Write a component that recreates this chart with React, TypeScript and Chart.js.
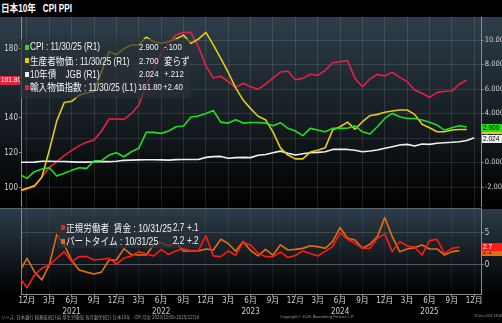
import React, { useEffect, useRef } from 'react';
import { Chart, registerables } from 'chart.js';

Chart.register(...registerables);

// month index: 0 = Dec 2020, first data point = Nov 2020
const FIRST_MONTH = -1;
const X_MIN = -0.8;
const X_MAX = 61.0;

// upper panel (monthly, Nov 2020 .. Nov 2025)
const cpi = [-0.97, -1.29, -0.75, -0.53, -0.42, -1.1, -0.88, -0.64, -0.42, -0.48, 0.15, 0.15, 0.61, 0.8, 0.47, 0.88, 1.16, 2.46, 2.46, 2.38, 2.57, 2.92, 2.98, 3.72, 3.8, 4.01, 4.25, 3.3, 3.22, 3.5, 3.22, 3.27, 3.27, 3.22, 3.0, 3.25, 2.79, 2.57, 2.2, 2.79, 2.65, 2.51, 2.79, 2.79, 2.8, 3.0, 2.51, 2.33, 2.92, 3.6, 4.01, 3.74, 3.6, 3.6, 3.47, 3.28, 3.06, 2.65, 2.84, 3.0, 2.9];
const ppi = [-2.3, -2.1, -1.9, -1.2, 1.0, 3.4, 4.9, 5.0, 5.5, 5.7, 5.8, 7.4, 9.05, 8.8, 9.3, 9.6, 9.6, 10.24, 9.86, 9.73, 9.86, 10.08, 10.4, 9.73, 10.08, 10.63, 9.6, 8.5, 7.35, 6.1, 5.1, 4.4, 3.78, 3.5, 2.5, 1.2, 0.61, 0.3, 0.3, 0.85, 1.0, 1.2, 2.65, 2.92, 3.3, 2.73, 3.33, 3.82, 3.93, 4.1, 4.2, 4.29, 4.29, 3.93, 3.12, 2.84, 2.51, 2.51, 2.65, 2.7, 2.7];
const jgb10y = [0.02, 0.02, 0.03, 0.1, 0.1, 0.08, 0.08, 0.05, 0.03, 0.03, 0.07, 0.08, 0.07, 0.1, 0.18, 0.2, 0.22, 0.23, 0.23, 0.22, 0.2, 0.24, 0.25, 0.25, 0.25, 0.42, 0.48, 0.5, 0.35, 0.4, 0.42, 0.4, 0.6, 0.66, 0.8, 0.93, 0.75, 0.61, 0.72, 0.8, 0.83, 0.88, 1.07, 1.07, 1.07, 1.0, 0.88, 0.94, 1.02, 1.16, 1.29, 1.43, 1.48, 1.35, 1.51, 1.48, 1.57, 1.62, 1.65, 1.7, 1.8, 2.024];
const importPrice = [97.6, 99.1, 100.5, 106.2, 111.4, 114.9, 118.3, 121.4, 124.1, 126.0, 127.3, 132.5, 139.4, 139.4, 139.2, 142.5, 147.5, 159.0, 167.6, 177.2, 183.0, 187.8, 189.3, 189.1, 181.0, 170.0, 163.0, 164.0, 161.0, 157.5, 160.0, 158.0, 156.5, 159.5, 163.0, 166.5, 167.0, 162.0, 162.8, 165.2, 164.5, 167.3, 171.8, 172.4, 173.0, 162.8, 158.0, 162.4, 165.1, 164.2, 166.3, 163.4, 160.9, 156.1, 154.2, 151.9, 154.6, 155.4, 155.5, 159.4, 161.8];

// lower panel (monthly, Nov 2020 .. Oct 2025)
const regularWage = [-1.9, -3.49, -1.54, -0.51, 0.0, 1.03, 2.05, 0.51, 1.28, 1.28, 0.77, 0.87, 1.03, 0.15, 1.03, 1.38, 2.05, 1.69, 1.38, 2.41, 1.6, 2.2, 2.5, 2.2, 2.2, 4.5, 1.4, 1.28, 2.15, 1.5, 3.5, 3.08, 1.8, 1.28, 1.28, 2.0, 1.15, 1.45, 2.15, 1.77, 1.38, 2.1, 2.82, 4.92, 3.95, 3.33, 2.56, 2.56, 4.1, 4.77, 2.05, 3.59, 2.92, 2.72, 1.54, 3.74, 3.95, 1.79, 2.56, 2.72];
const partTimeWage = [-1.03, 1.0, -1.03, -2.3, 0.0, 4.67, 3.08, 0.7, -0.77, -1.1, -1.38, -1.1, 0.77, 0.77, 2.5, 1.6, 1.54, 1.54, 3.1, 3.45, 2.95, 3.45, 2.1, 2.2, 2.15, 2.45, 2.3, 3.95, 3.3, 2.1, 3.59, 2.2, 1.4, 2.4, 1.5, 3.1, 2.3, 2.4, 2.55, 2.95, 2.82, 2.56, 3.59, 5.74, 4.1, 3.85, 2.56, 3.18, 4.36, 7.28, 4.36, 2.05, 2.46, 2.67, 3.08, 2.46, 2.46, 1.54, 2.05, 2.2];

// ticks
const monthTickLabels = ['12月', '3月', '6月', '9月', '12月', '3月', '6月', '9月', '12月', '3月', '6月', '9月', '12月', '3月', '6月', '9月', '12月', '3月', '6月', '9月', '12月'];
const yearTickLabels = ['', '', '2021', '', '', '', '2022', '', '', '', '2023', '', '', '', '2024', '', '', '', '2025', '', ''];
const leftTicks = [100, 120, 140, 160, 180];
const rightTicks = [-2, 0, 2, 4, 6, 8, 10];
const lowerTicks = [0, 5];

const NARROW = '"Liberation Sans Narrow", "DejaVu Sans Condensed", "Noto Sans CJK JP", sans-serif';
const LAT = '"Liberation Sans", Arial, "Noto Sans CJK JP", sans-serif';
const CJK = '"Noto Sans CJK JP", sans-serif';
const SQ = 0.82; // horizontal squeeze to mimic the narrow terminal font
const axisGray = '#8c8c8c';
const labelColor = '#d2d2d2';
const gridColor = 'rgba(255,255,255,0.11)';

const C_CPI = '#22dd22';
const C_PPI = '#e2cb16';
const C_JGB = '#efefef';
const C_IMP = '#e3223f';
const C_REG = '#ff1a1a';
const C_PART = '#e0700f';

const pts = (arr: number[]) => arr.map((v, i) => ({ x: FIRST_MONTH + i, y: v }));
const quarterTicks = () => monthTickLabels.map((_, i) => ({ value: i * 3 }));

function panelBg(top: string) {
  return {
    id: 'panelBg',
    beforeDraw(chart: any) {
      const { ctx, chartArea } = chart;
      const g = ctx.createLinearGradient(0, chartArea.top, 0, chartArea.bottom);
      g.addColorStop(0, top);
      g.addColorStop(1, '#000000');
      ctx.save();
      ctx.fillStyle = g;
      ctx.fillRect(0, chartArea.top, chart.width, chartArea.bottom - chartArea.top);
      ctx.restore();
    },
  };
}

const fixW = (w: number) => (s: any) => { s.width = w; s.paddingTop = 0; s.paddingBottom = 0; };
const fixH = (h: number) => (s: any) => { s.height = h; s.paddingLeft = 0; s.paddingRight = 0; };

const abs = (left: number, top: number, extra: any = {}) => ({ position: 'absolute' as const, left, top, whiteSpace: 'pre' as const, ...extra });
const squeeze = { transform: `scaleX(${SQ})`, transformOrigin: 'left center' };

function Tag({ left, top, w, h, bg, color, text }: any) {
  return (
    <div style={abs(left, top, { width: w, height: h, background: bg, overflow: 'hidden' })}>
      <div style={abs(1, 0, { color, fontFamily: LAT, fontSize: 8, lineHeight: `${h}px`, ...squeeze })}>{text}</div>
    </div>
  );
}

function Row({ x, cy, marker, size, cjkSize, parts }: any) {
  return (
    <>
      <div style={abs(x - 5, cy - 2.5, { width: 4, height: 5, background: marker })} />
      <div style={abs(x, cy - 7, { lineHeight: '14px', fontSize: size, color: '#f2f2f2', fontFamily: LAT, ...squeeze })}>
        {parts.map((p: any, i: number) => typeof p === 'string' ? <span key={i}>{p}</span> : <span key={i} style={{ fontFamily: CJK, fontSize: cjkSize }}>{p.j}</span>)}
      </div>
    </>
  );
}

function Txt({ x, cy, text, size, cjk }: any) {
  return <div style={abs(x, cy - 7, { lineHeight: '14px', fontSize: size, color: '#f2f2f2', fontFamily: cjk ? CJK : LAT, ...squeeze })}>{text}</div>;
}

export default function App() {
  const upRef = useRef<HTMLCanvasElement>(null);
  const loRef = useRef<HTMLCanvasElement>(null);

  useEffect(() => {
    const common: any = {
      animation: false,
      responsive: false,
      maintainAspectRatio: false,
      events: [],
      layout: { padding: 0 },
      elements: { point: { radius: 0, hoverRadius: 0 }, line: { tension: 0, borderJoinStyle: 'round', fill: false } },
      plugins: { legend: { display: false }, tooltip: { enabled: false } },
    };

    const upper = new Chart(upRef.current as HTMLCanvasElement, {
      type: 'line',
      data: {
        datasets: [
          { label: 'CPI', data: pts(cpi), yAxisID: 'yR', borderColor: C_CPI, borderWidth: 1.6 },
          { label: '生産者物価', data: pts(ppi), yAxisID: 'yR', borderColor: C_PPI, borderWidth: 1.6 },
          { label: '10年債 JGB', data: pts(jgb10y), yAxisID: 'yR', borderColor: C_JGB, borderWidth: 1.6 },
          { label: '輸入物価指数', data: pts(importPrice), yAxisID: 'yL', borderColor: C_IMP, borderWidth: 1.6 },
        ],
      },
      options: {
        ...common,
        scales: {
          x: {
            type: 'linear', min: X_MIN, max: X_MAX,
            afterBuildTicks: (s: any) => { s.ticks = quarterTicks(); },
            ticks: { display: false },
            grid: { color: gridColor, drawTicks: false },
            border: { display: false },
            afterFit: fixH(0),
          },
          yL: {
            type: 'linear', position: 'left', min: 88.8, max: 198.1,
            afterBuildTicks: (s: any) => { s.ticks = leftTicks.map((v) => ({ value: v })); },
            ticks: { color: labelColor, padding: 1, font: { family: NARROW, size: 8 } },
            grid: { drawOnChartArea: false, tickColor: axisGray, tickLength: 2 },
            border: { display: true, color: axisGray },
            afterFit: fixW(21),
          },
          yR: {
            type: 'linear', position: 'right', min: -3.63, max: 11.88,
            afterBuildTicks: (s: any) => { s.ticks = rightTicks.map((v) => ({ value: v })); },
            ticks: { color: labelColor, padding: 1, font: { family: NARROW, size: 7.5 }, callback: (v: any) => Number(v).toFixed(3) },
            grid: { color: gridColor, tickColor: axisGray, tickLength: 2 },
            border: { display: true, color: axisGray },
            afterFit: fixW(20.3),
          },
        },
      },
      plugins: [panelBg('#2e3e4a')],
    } as any);

    const lower = new Chart(loRef.current as HTMLCanvasElement, {
      type: 'line',
      data: {
        datasets: [
          { label: '正規労働者 賃金', data: pts(regularWage), yAxisID: 'yW', borderColor: C_REG, borderWidth: 1.6 },
          { label: 'パートタイム', data: pts(partTimeWage), yAxisID: 'yW', borderColor: C_PART, borderWidth: 1.6 },
        ],
      },
      options: {
        ...common,
        scales: {
          x: {
            type: 'linear', min: X_MIN, max: X_MAX,
            afterBuildTicks: (s: any) => { s.ticks = quarterTicks(); },
            ticks: {
              autoSkip: false, maxRotation: 0, minRotation: 0, color: labelColor, padding: -2,
              font: { family: NARROW, size: 8, lineHeight: 1.4 },
              callback: (_v: any, i: number) => [monthTickLabels[i], yearTickLabels[i]],
            },
            grid: { color: 'rgba(255,255,255,0.06)', tickColor: axisGray, tickLength: 3 },
            border: { display: true, color: axisGray },
            afterFit: fixH(25),
          },
          yl: {
            type: 'linear', position: 'left',
            ticks: { display: false },
            grid: { drawOnChartArea: false, drawTicks: false },
            border: { display: true, color: axisGray },
            afterFit: fixW(21),
          },
          yW: {
            type: 'linear', position: 'right', min: -4.46, max: 8.6,
            afterBuildTicks: (s: any) => { s.ticks = lowerTicks.map((v) => ({ value: v })); },
            ticks: { color: labelColor, padding: 1, font: { family: NARROW, size: 8 } },
            grid: {
              color: (c: any) => (c.tick && c.tick.value === 0 ? 'rgba(255,255,255,0.28)' : 'rgba(255,255,255,0.14)'),
              tickColor: axisGray, tickLength: 2,
            },
            border: { display: true, color: axisGray },
            afterFit: fixW(20.3),
          },
        },
      },
      plugins: [panelBg('#2c3c48')],
    } as any);

    return () => { upper.destroy(); lower.destroy(); };
  }, []);

  return (
    <div style={{ position: 'fixed', left: 0, top: 0, width: 502, height: 323, background: '#000', overflow: 'hidden', fontFamily: LAT }}>
      {/* title */}
      <div style={abs(1, 1, { color: '#fff', fontWeight: 'bold', fontSize: 10, lineHeight: '14px', fontFamily: LAT, ...squeeze })}>
        <span style={{ fontFamily: CJK, fontSize: 10.5 }}>日本</span>10<span style={{ fontFamily: CJK, fontSize: 10.5 }}>年</span>{'   CPI PPI'}
      </div>

      <canvas ref={upRef} width={502} height={190} style={{ position: 'absolute', left: 0, top: 17, width: 502, height: 190, display: 'block' }} />
      <div style={abs(0, 208, { width: 482, height: 1, background: '#5d656c' })} />
      <canvas ref={loRef} width={502} height={110} style={{ position: 'absolute', left: 0, top: 209, width: 502, height: 110, display: 'block' }} />

      {/* upper legend */}
      <div style={abs(20, 39, { width: 170, height: 59, background: 'rgba(42,48,54,0.68)', borderRadius: 2 })} />
      <Row x={30} cy={47} marker={C_CPI} size={10} cjkSize={10.5} parts={['CPI : 11/30/25 (R1)']} />
      <Txt x={139} cy={47} size={9.5} text="2.900" />
      <Txt x={164} cy={47} size={9.5} text="-.100" />
      <Row x={30} cy={60.5} marker={C_PPI} size={10} cjkSize={10.5} parts={[{ j: '生産者物価' }, ' : 11/30/25 (R1)']} />
      <Txt x={139} cy={60.5} size={9.5} text="2.700" />
      <Txt x={164} cy={60.5} size={10.5} cjk text="変らず" />
      <Row x={30} cy={74} marker={C_JGB} size={10} cjkSize={10.5} parts={['10', { j: '年債' }, '    JGB (R1)']} />
      <Txt x={139} cy={74} size={9.5} text="2.024" />
      <Txt x={164} cy={74} size={9.5} text="+.212" />
      <Row x={30} cy={87} marker={C_IMP} size={10} cjkSize={10.5} parts={[{ j: '輸入物価指数' }, ' : 11/30/25 (L1)']} />
      <Txt x={137.5} cy={87} size={9.5} text="161.80" />
      <Txt x={163} cy={87} size={9.5} text="+2.40" />

      {/* lower legend */}
      <div style={abs(57, 216, { width: 143, height: 32, background: 'rgba(42,50,58,0.7)', borderRadius: 2 })} />
      <Row x={65.5} cy={227.5} marker={C_REG} size={10.5} cjkSize={10.5} parts={[{ j: '正規労働者' }, '  ', { j: '賃金' }, ' : 10/31/25']} />
      <Txt x={172.5} cy={227.5} size={10} text="2.7" />
      <Txt x={186.5} cy={227.5} size={10} text="+.1" />
      <Row x={65.5} cy={241} marker={C_PART} size={10.5} cjkSize={10.5} parts={[{ j: 'パートタイム' }, ' : 10/31/25']} />
      <Txt x={173} cy={241} size={10} text="2.2" />
      <Txt x={186.5} cy={241} size={10} text="+.2" />

      {/* value tags */}
      <Tag left={0} top={76} w={20} h={8.5} bg={C_IMP} color="#fff" text="161.80" />
      <Tag left={482} top={126} w={20} h={8} bg={C_PPI} color="#000" text="2.700" />
      <Tag left={482} top={124} w={20} h={8} bg={C_CPI} color="#000" text="2.900" />
      <Tag left={482} top={135} w={20} h={8} bg={C_JGB} color="#000" text="2.024" />
      <Tag left={482} top={247.5} w={20} h={8.5} bg={C_PART} color="#000" text="2.2" />
      <Tag left={482} top={242.5} w={20} h={8.5} bg={C_REG} color="#fff" text="2.7" />

      {/* footer */}
      <div style={abs(1, 315, { fontSize: 8, lineHeight: '8px', color: '#9a9a9a', fontFamily: NARROW, transform: 'scale(0.55)', transformOrigin: 'left top' })}>
        <span style={{ fontFamily: CJK }}>ソース: 日本銀行 総務省統計局 厚生労働省 毎月勤労統計 日本10年</span>{'   CPI 月次 2020/10/30-2025/12/19'}
      </div>
      <div style={abs(280, 315, { fontSize: 8, lineHeight: '8px', color: '#9a9a9a', fontFamily: NARROW, transform: 'scale(0.5)', transformOrigin: 'left top' })}>Copyright© 2025 Bloomberg Finance L.P.</div>
      <div style={abs(474, 315, { fontSize: 8, lineHeight: '8px', color: '#9a9a9a', fontFamily: NARROW, transform: 'scale(0.4)', transformOrigin: 'left top' })}>19-Dec-2025 18:58:24</div>
    </div>
  );
}
